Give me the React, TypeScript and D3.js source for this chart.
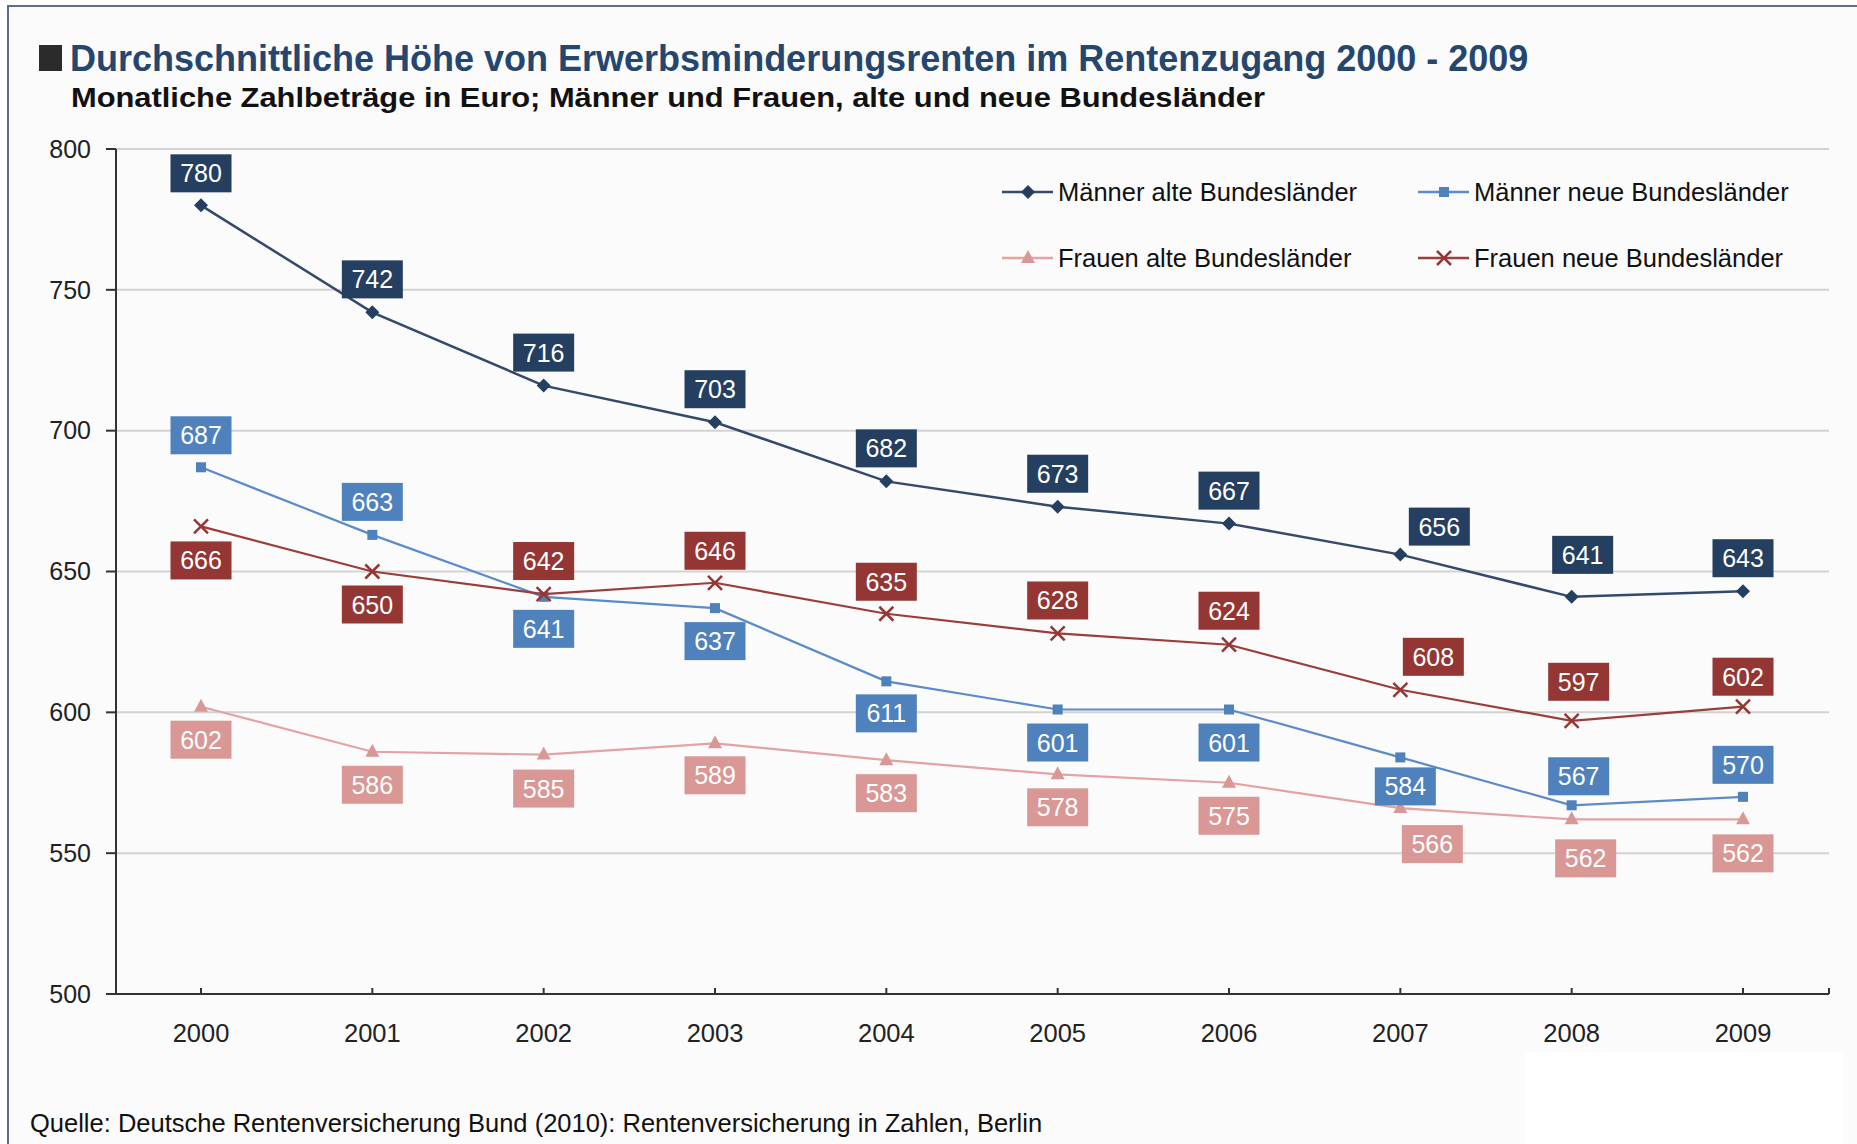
import React from 'react';
import * as d3 from 'd3';

const W = 1857;
const H = 1144;
const FONT = '"Liberation Sans", Arial, sans-serif';

const years = ['2000', '2001', '2002', '2003', '2004', '2005', '2006', '2007', '2008', '2009'];
const maennerAlt = [780, 742, 716, 703, 682, 673, 667, 656, 641, 643];
const maennerNeu = [687, 663, 641, 637, 611, 601, 601, 584, 567, 570];
const frauenAlt = [602, 586, 585, 589, 583, 578, 575, 566, 562, 562];
const frauenNeu = [666, 650, 642, 646, 635, 628, 624, 608, 597, 602];
const yTicks = [500, 550, 600, 650, 700, 750, 800];

// where each value box sits relative to its point (Excel kept hand-placed ones)
const offMA = [[0, -32], [0, -33], [0, -33], [0, -33], [0, -33], [0, -33], [0, -33], [39, -28], [11, -42], [0, -33]];
const offMN = [[0, -32], [0, -33], [0, 32], [0, 33], [0, 32], [0, 33], [0, 33], [5, 29], [7, -29], [0, -32]];
const offFN = [[0, 34], [0, 33], [0, -33], [0, -32], [0, -32], [0, -33], [0, -34], [33, -33], [7, -39], [0, -30]];
const offFA = [[0, 33], [0, 33], [0, 34], [0, 32], [0, 33], [0, 33], [0, 33], [32, 36], [14, 39], [0, 34]];

const series = [
  { name: 'Männer alte Bundesländer', values: maennerAlt, off: offMA, line: '#34496b', box: '#243f60', marker: 'diamond', width: 2.5 },
  { name: 'Männer neue Bundesländer', values: maennerNeu, off: offMN, line: '#5b8bc8', box: '#4f81bd', marker: 'square', width: 2.2 },
  { name: 'Frauen alte Bundesländer', values: frauenAlt, off: offFA, line: '#e3a3a2', box: '#d99795', marker: 'triangle', width: 2.2 },
  { name: 'Frauen neue Bundesländer', values: frauenNeu, off: offFN, line: '#9b3d3b', box: '#943634', marker: 'cross', width: 2.2 },
];

const Marker = ({ type, x, y, color }) => {
  if (type === 'diamond') {
    return <path d={`M${x},${y - 7}L${x + 7},${y}L${x},${y + 7}L${x - 7},${y}Z`} fill={color} />;
  }
  if (type === 'square') {
    return <rect x={x - 5} y={y - 5} width={10} height={10} fill={color} />;
  }
  if (type === 'triangle') {
    return <path d={`M${x},${y - 8}L${x + 7},${y + 5}L${x - 7},${y + 5}Z`} fill={color} />;
  }
  return (
    <path d={`M${x - 7},${y - 7}L${x + 7},${y + 7}M${x - 7},${y + 7}L${x + 7},${y - 7}`} stroke={color} strokeWidth={2.5} fill="none" />
  );
};

export default function App() {
  const x = d3.scalePoint().domain(years).range([201, 1743]);
  const y = d3.scaleLinear().domain([500, 800]).range([994, 149]);
  const line = d3.line<number>().x((_, i) => x(years[i])!).y(d => y(d));

  const legendPos = [
    [1002, 192],
    [1418, 192],
    [1002, 258],
    [1418, 258],
  ];

  return (
    <div style={{ position: 'absolute', left: 0, top: 0 }}>
      <svg width={W} height={H} style={{ display: 'block', fontFamily: FONT }}>
        <rect x={0} y={0} width={W} height={H} fill="#ffffff" />
        <rect x={8} y={6} width={W} height={H} fill="#fbfbfb" stroke="#5a6f90" strokeWidth={2} />
        <rect x={1525} y={1052} width={318} height={92} fill="#ffffff" />

        <rect x={39} y={45} width={23} height={26} fill="#2b2b2b" />
        <text x={70} y={71} fontSize={36} fontWeight="bold" fill="#24466f">
          Durchschnittliche Höhe von Erwerbsminderungsrenten im Rentenzugang 2000 - 2009
        </text>
        <text x={71} y={107} fontSize={28} fontWeight="bold" fill="#111" textLength={1194} lengthAdjust="spacingAndGlyphs">
          Monatliche Zahlbeträge in Euro; Männer und Frauen, alte und neue Bundesländer
        </text>

        {yTicks.filter(t => t > 500).map(t => (
          <line key={t} x1={116} x2={1829} y1={y(t)} y2={y(t)} stroke="#d3d3d3" strokeWidth={2} />
        ))}
        {yTicks.map(t => (
          <g key={t}>
            <line x1={106} x2={116} y1={y(t)} y2={y(t)} stroke="#333" strokeWidth={2} />
            <text x={91} y={y(t)} dy="0.35em" textAnchor="end" fontSize={25} fill="#222">{t}</text>
          </g>
        ))}
        <line x1={116} x2={116} y1={149} y2={994} stroke="#333" strokeWidth={2} />
        <line x1={106} x2={1829} y1={994} y2={994} stroke="#333" strokeWidth={2} />
        <line x1={1829} x2={1829} y1={988} y2={994} stroke="#333" strokeWidth={2} />
        {years.map(yr => (
          <g key={yr}>
            <line x1={x(yr)} x2={x(yr)} y1={988} y2={994} stroke="#333" strokeWidth={2} />
            <text x={x(yr)} y={1033} dy="0.35em" textAnchor="middle" fontSize={25.5} fill="#222">{yr}</text>
          </g>
        ))}

        {series.map(s => (
          <g key={s.name}>
            <path d={line(s.values)!} fill="none" stroke={s.line} strokeWidth={s.width} />
            {s.values.map((v, i) => (
              <Marker key={i} type={s.marker} x={x(years[i])!} y={y(v)} color={s.box} />
            ))}
          </g>
        ))}

        {series.map(s => (
          <g key={s.name + '-labels'}>
            {s.values.map((v, i) => {
              const cx = x(years[i])! + s.off[i][0];
              const cy = y(v) + s.off[i][1];
              return (
                <g key={i}>
                  <rect x={cx - 30.5} y={cy - 19} width={61} height={38} fill={s.box} />
                  <text x={cx} y={cy} dy="0.36em" textAnchor="middle" fontSize={25} fill="#fff">{v}</text>
                </g>
              );
            })}
          </g>
        ))}

        {series.map((s, k) => {
          const [lx, ly] = legendPos[k];
          return (
            <g key={s.name + '-legend'}>
              <line x1={lx} x2={lx + 51} y1={ly} y2={ly} stroke={s.line} strokeWidth={2.5} />
              <Marker type={s.marker} x={lx + 26} y={ly} color={s.box} />
              <text x={lx + 56} y={ly} dy="0.35em" fontSize={25.5} fill="#111">{s.name}</text>
            </g>
          );
        })}

        <text x={30} y={1132} fontSize={25.5} fill="#111">
          Quelle: Deutsche Rentenversicherung Bund (2010): Rentenversicherung in Zahlen, Berlin
        </text>
      </svg>
    </div>
  );
}
